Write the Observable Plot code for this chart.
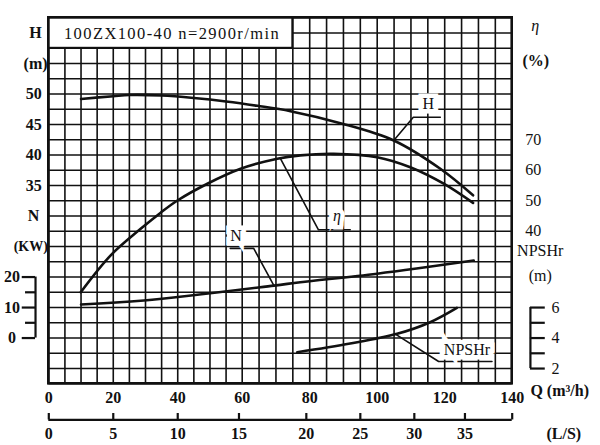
<!DOCTYPE html>
<html><head><meta charset="utf-8">
<script src="https://cdn.jsdelivr.net/npm/d3@7"></script>
<script src="https://cdn.jsdelivr.net/npm/@observablehq/plot@0.6"></script>
<style>body{margin:0;background:#fff}</style>
</head><body><div id="chart"></div>
<script>
// ---- curve data (Q in m3/h) ----
const qH    = [10, 20, 25, 35, 45, 55, 64.5, 74.3, 89.1, 104.9, 118.7, 128.4];
const headM = [49.2, 49.65, 49.85, 49.76, 49.35, 48.78, 48.07, 47.19, 45.22, 42.39, 37.75, 33.4];
const qEta  = [9.9, 19.2, 28.5, 34.7, 39.9, 49.2, 59.5, 70.4, 77.2, 87.1, 100, 109.8, 119.7, 128.4];
const etaPct= [20.0, 32.1, 40.8, 46.1, 50.1, 55.6, 60.5, 63.8, 64.9, 65.4, 64.3, 61.0, 55.6, 49.3];
const qN    = [10, 29.5, 69.4, 77.2, 100, 128.6];
const powKW = [11.0, 12.3, 17.2, 18.3, 21.1, 25.4];
const qNpsh = [76.3, 92, 105.9, 115.7, 123.6];
const npshM = [3.07, 3.64, 4.28, 5.04, 5.98];

// ---- tick labels ----
const qTicks   = [0, 20, 40, 60, 80, 100, 120, 140];
const lsTicks  = [0, 5, 10, 15, 20, 25, 30, 35];
const lsTickQ  = [0, 20, 40, 59, 79, 95, 111, 126]; // where the L/S ticks sit on the Q scale (as drawn)
const hTicks   = [50, 45, 40, 35];
const etaTicks = [70, 60, 50, 40];
const nTicks   = [20, 10, 0];
const nMinor   = [20, 15, 10, 5, 0];
const npshTicks= [6, 4, 2];
const npshMinor= [6, 5, 4, 3, 2];
const title = "100ZX100-40 n=2900r/min";

// secondary axes expressed on the H scale
const etaToH  = e => 0.5 * e + 7.5;
const nToH    = n => 10 + 0.5 * n;
const npshToH = p => 2.5 * p;

const F = "Liberation Serif";
const zip = (xs, ys, f) => xs.map((x, i) => ({q: x, h: f ? f(ys[i]) : ys[i]}));
const curveH = zip(qH, headM);
const curveEta = zip(qEta, etaPct, etaToH);
const curveN = zip(qN, powKW, nToH);
const curveNpsh = zip(qNpsh, npshM, npshToH);

// annotation leaders (Q, H units)
const hLeader = [{q:104.9,h:42.4},{q:110.7,h:46.2},{q:118.7,h:46.2}];
const etaLeader = [{q:71.3,h:39.45},{q:82.6,h:27.75},{q:92,h:27.75}];
const nLeader = [{q:69.4,h:18.6},{q:63.4,h:24.7},{q:56.3,h:24.7}];
const npshLeader = [{q:105.4,h:10.65},{q:118.2,h:6.16},{q:134,h:6.16}];
const labels = [
  {q:115.1, h:48.4, t:"H"},
  {q:58.1, h:26.8, t:"N"},
  {q:126.6, h:8.0, t:"NPSHr"}
];
const etaLabel = [{q:88.1, h:30.1, t:"η"}];

const gridQ = d3.range(0, 141, 5);
const gridH = d3.range(2.5, 62.6, 2.5);
const txt = (data, o) => Plot.text(data, {fontFamily: F, fontSize: 16, fontWeight: "bold", fill: "#111", ...o});
const halo = {stroke: "white", strokeWidth: 9, paintOrder: "stroke", strokeLinejoin: "miter"};

const chart = Plot.plot({
  width: 600, height: 445, margin: 0,
  style: {background: "#fff"},
  x: {type: "linear", domain: [0, 60, 140], range: [48.3, 241.7, 511.7], axis: null},
  y: {type: "linear", domain: [2.5, 62.5], range: [383.3, 17.3], axis: null},
  marks: [
    Plot.ruleX(gridQ, {x: d => d, y1: 2.5, y2: 62.5, stroke: "#111", strokeWidth: 1.6}),
    Plot.ruleY(gridH, {y: d => d, x1: 0, x2: 140, stroke: "#111", strokeWidth: 1.6}),
    Plot.rect([0], {x1: 0, x2: 75, y1: 57.5, y2: 62.5, fill: "white", stroke: "#111", strokeWidth: 2}),
    txt([title], {x: 4.7, y: 59.9, text: d => d, textAnchor: "start", fontWeight: "normal", fontSize: 16.5}),
    Plot.rect([0], {x1: 0, x2: 140, y1: 2.5, y2: 62.5, fill: "none", stroke: "#111", strokeWidth: 2.6}),
    // curves
    Plot.line(curveH, {x: "q", y: "h", curve: "catmull-rom", stroke: "#111", strokeWidth: 2.6}),
    Plot.line(curveEta, {x: "q", y: "h", curve: "catmull-rom", stroke: "#111", strokeWidth: 2.6}),
    Plot.line(curveN, {x: "q", y: "h", curve: "catmull-rom", stroke: "#111", strokeWidth: 2.6}),
    Plot.line(curveNpsh, {x: "q", y: "h", curve: "catmull-rom", stroke: "#111", strokeWidth: 2.6}),
    // leaders and labels
    ...[hLeader, etaLeader, nLeader, npshLeader].map(L => Plot.line(L, {x: "q", y: "h", stroke: "#111", strokeWidth: 1.6})),
    txt(labels, {x: "q", y: "h", text: "t", fontWeight: "normal", ...halo}),
    txt(etaLabel, {x: "q", y: "h", text: "t", fontStyle: "italic", fontWeight: "normal", ...halo}),
    // left axis labels
    txt(hTicks, {x: -4.65, y: d => d, text: d => String(d)}),
    txt(["H", "(m)"], {x: -4.1, y: (d, i) => [60, 55][i], text: d => d}),
    txt(["N"], {x: -4.7, y: 30, text: d => d}),
    txt(["(KW)"], {x: -5.6, y: 25, text: d => d, fontSize: 14}),
    // N bracket
    Plot.ruleX([0], {x: -4.12, y1: nToH(0), y2: nToH(20), stroke: "#111", strokeWidth: 2.2}),
    Plot.ruleY(nMinor, {y: d => nToH(d), x1: d => d % 10 === 0 ? -8.24 : -7.22, x2: -4.12, stroke: "#111", strokeWidth: 2.2}),
    txt(nTicks, {x: -11.4, y: d => nToH(d), text: d => String(d)}),
    // right axis labels
    txt(etaTicks, {x: 146.2, y: d => etaToH(d), text: d => String(d), fontWeight: "normal"}),
    txt(["η"], {x: 146.8, y: 61.2, text: d => d, fontStyle: "italic", fontWeight: "normal"}),
    txt(["(%)"], {x: 147, y: 55.5, text: d => d}),
    txt(["NPSHr", "(m)"], {x: 148.3, y: (d, i) => [24.3, 20.2][i], text: d => d, fontWeight: "normal"}),
    // NPSH bracket
    Plot.ruleX([0], {x: 145.4, y1: npshToH(2), y2: npshToH(6), stroke: "#111", strokeWidth: 2.2}),
    Plot.ruleY(npshMinor, {y: d => npshToH(d), x1: 145.4, x2: 149.8, stroke: "#111", strokeWidth: 2.2}),
    txt(npshTicks, {x: 152.8, y: d => npshToH(d), text: d => String(d), fontWeight: "normal"}),
    // Q axis labels
    txt(qTicks, {x: d => d, y: 0.25, text: d => String(d)}),
    txt(["Q (m³/h)"], {x: 145.4, y: 1.27, text: d => d, textAnchor: "start"}),
    // L/S axis
    Plot.ruleY([0], {y: -3.43, x1: 0, x2: 140, stroke: "#111", strokeWidth: 2.2}),
    Plot.ruleX([...lsTickQ, 140], {x: d => d, y1: -3.43, y2: -2.37, stroke: "#111", strokeWidth: 2.2}),
    txt(lsTicks, {x: (d, i) => lsTickQ[i], y: -5.65, text: d => String(d)}),
    txt(["(L/S)"], {x: 155.3, y: -5.65, text: d => d})
  ]
});
d3.select(chart).selectAll("text").filter(function () { return this.textContent === title; })
  .attr("letter-spacing", "1.4px");
document.getElementById("chart").appendChild(chart);
</script>
</body></html>
